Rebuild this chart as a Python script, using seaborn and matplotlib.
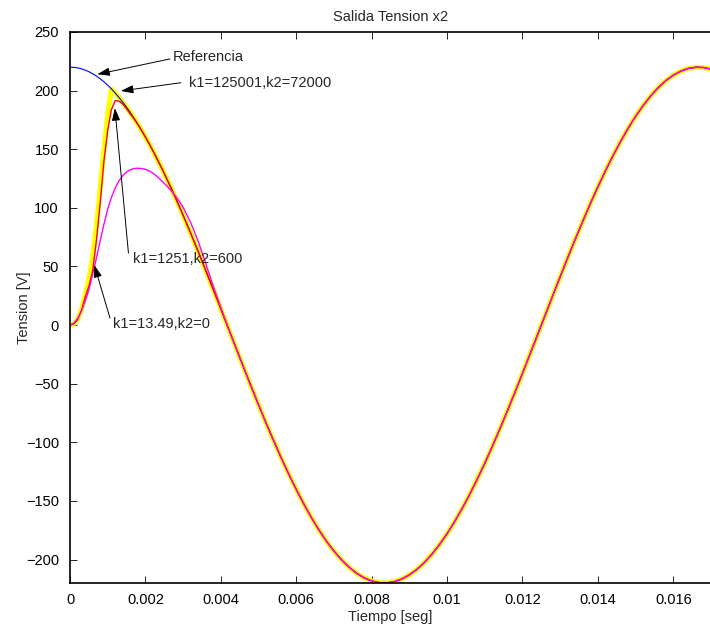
import numpy as np
import matplotlib
matplotlib.use("Agg")
import matplotlib.pyplot as plt
import seaborn as sns

# time axis [s]
t = [0.0000, 0.0001, 0.0002, 0.0003, 0.0004, 0.0005, 0.0006, 0.0007, 0.0008, 0.0009,
     0.0010, 0.0011, 0.0012, 0.0013, 0.0014, 0.0015, 0.0016, 0.0017, 0.0018, 0.0019,
     0.0020, 0.0021, 0.0022, 0.0023, 0.0024, 0.0025, 0.0026, 0.0027, 0.0028, 0.0029,
     0.0030, 0.0032, 0.0034, 0.0036, 0.0038, 0.0040, 0.0042, 0.0044, 0.0046, 0.0048,
     0.0050, 0.0052, 0.0054, 0.0056, 0.0058, 0.0060, 0.0062, 0.0064, 0.0066, 0.0068,
     0.0070, 0.0072, 0.0074, 0.0076, 0.0078, 0.0080, 0.0082, 0.0084, 0.0086, 0.0088,
     0.0090, 0.0092, 0.0094, 0.0096, 0.0098, 0.0100, 0.0102, 0.0104, 0.0106, 0.0108,
     0.0110, 0.0112, 0.0114, 0.0116, 0.0118, 0.0120, 0.0122, 0.0124, 0.0126, 0.0128,
     0.0130, 0.0132, 0.0134, 0.0136, 0.0138, 0.0140, 0.0142, 0.0144, 0.0146, 0.0148,
     0.0150, 0.0152, 0.0154, 0.0156, 0.0158, 0.0160, 0.0162, 0.0164, 0.0166, 0.0168,
     0.0170]

# reference voltage [V]
referencia = [220.0, 219.8, 219.4, 218.6, 217.5, 216.1, 214.4, 212.4, 210.1, 207.5,
              204.6, 201.4, 197.9, 194.1, 190.1, 185.8, 181.2, 176.4, 171.3, 165.9,
              160.4, 154.6, 148.6, 142.3, 135.9, 129.3, 122.5, 115.6, 108.4, 101.1,
              93.7, 78.4, 62.7, 46.6, 30.3, 13.8, -2.8, -19.3, -35.8, -52.0,
              -68.0, -83.6, -98.6, -113.2, -127.1, -140.2, -152.6, -164.1, -174.7, -184.3,
              -192.8, -200.2, -206.5, -211.7, -215.6, -218.3, -219.7, -219.9, -218.9, -216.6,
              -213.1, -208.4, -202.5, -195.4, -187.2, -178.0, -167.7, -156.5, -144.5, -131.5,
              -117.9, -103.6, -88.6, -73.2, -57.4, -41.2, -24.8, -8.3, 8.3, 24.8,
              41.2, 57.4, 73.2, 88.6, 103.6, 117.9, 131.5, 144.5, 156.5, 167.7,
              178.0, 187.2, 195.4, 202.5, 208.4, 213.1, 216.6, 218.9, 219.9, 219.7,
              218.3]

# start-up transients (after these points each response sits on the reference)
k1_125001_head = [0.0, 1.0, 5.0, 13.0, 25.0, 40.0, 58.0, 85.0, 117.0, 150.0,
                  180.0, 201.4]
k1_1251_head = [0.0, 1.0, 4.5, 12.0, 23.5, 33.0, 46.0, 72.0, 104.0, 140.0,
                166.0, 184.0, 191.5, 191.0, 188.5, 184.5, 180.0, 175.8, 171.0]
k1_1349_head = [0.0, 1.5, 5.5, 12.0, 20.0, 30.0, 43.0, 57.0, 72.0, 86.0,
                99.0, 109.0, 117.0, 123.0, 127.5, 130.5, 132.5, 133.5, 133.8, 133.5,
                132.8, 131.5, 129.5, 127.0, 124.0, 120.8, 117.5, 114.0, 110.0, 105.5,
                100.5, 87.5, 71.5, 52.5, 33.0, 15.0]

ref = np.array(referencia)
k1_125001 = np.r_[k1_125001_head, ref[len(k1_125001_head):]]
k1_1251 = np.r_[k1_1251_head, ref[len(k1_1251_head):]]
k1_1349 = np.r_[k1_1349_head, ref[len(k1_1349_head):]]

x_ticks = [0, 0.002, 0.004, 0.006, 0.008, 0.01, 0.012, 0.014, 0.016]
x_labels = ["0", "0.002", "0.004", "0.006", "0.008", "0.01", "0.012", "0.014", "0.016"]
y_ticks = [-200, -150, -100, -50, 0, 50, 100, 150, 200, 250]

sns.set_style("ticks")
plt.rcParams["font.family"] = ["Liberation Sans", "DejaVu Sans"]

fig = plt.figure(figsize=(7.1, 6.28), dpi=100)
ax = fig.add_axes([0.0986, 0.0717, 0.9028, 0.8774])

sns.lineplot(x=t, y=k1_125001, ax=ax, color="#ffff00", lw=3.6, sort=False, estimator=None)
sns.lineplot(x=t, y=referencia, ax=ax, color="#0000ff", lw=0.8, sort=False, estimator=None)
sns.lineplot(x=t, y=k1_1251, ax=ax, color="#ff0000", lw=1.0, sort=False, estimator=None)
sns.lineplot(x=t, y=k1_1349, ax=ax, color="#ff00ff", lw=1.0, sort=False, estimator=None)

ax.set_xlim(0, 0.017)
ax.set_ylim(-220, 250)
ax.set_xticks(x_ticks)
ax.set_xticklabels(x_labels)
ax.set_yticks(y_ticks)
ax.tick_params(direction="in", top=True, right=False, length=5, width=0.6,
               labelsize=10.5, colors="black")
ax.tick_params(axis="x", pad=7)
ax.tick_params(axis="y", pad=8)
for s in ax.spines.values():
    s.set_linewidth(1.2)
    s.set_color("black")

ax.set_title("Salida Tension x2", fontsize=10.5, pad=8)
ax.set_xlabel("Tiempo [seg]", fontsize=10.5, labelpad=2.5)
ax.set_ylabel("Tension [V]", fontsize=10.5, labelpad=-4)

arrow = dict(arrowstyle="-|>,head_length=0.75,head_width=0.25", color="black",
             lw=0.7, shrinkA=0, shrinkB=0, mutation_scale=10)
notes = [
    ("Referencia", (0.000724, 213.9), (0.00265, 227.0), (0.00272, 228.9)),
    ("k1=125001,k2=72000", (0.00135, 199.7), (0.00294, 206.7), (0.00316, 206.7)),
    ("k1=1251,k2=600", (0.00119, 185.0), (0.00155, 61.4), (0.00168, 56.0)),
    ("k1=13.49,k2=0", (0.000645, 51.2), (0.00106, 6.0), (0.00114, 0.9)),
]
for label, tip, tail, pos in notes:
    ax.annotate("", xy=tip, xytext=tail, arrowprops=arrow)
    ax.text(pos[0], pos[1], label, ha="left", va="center", fontsize=10.5)

fig.savefig("out.png", dpi=100)
